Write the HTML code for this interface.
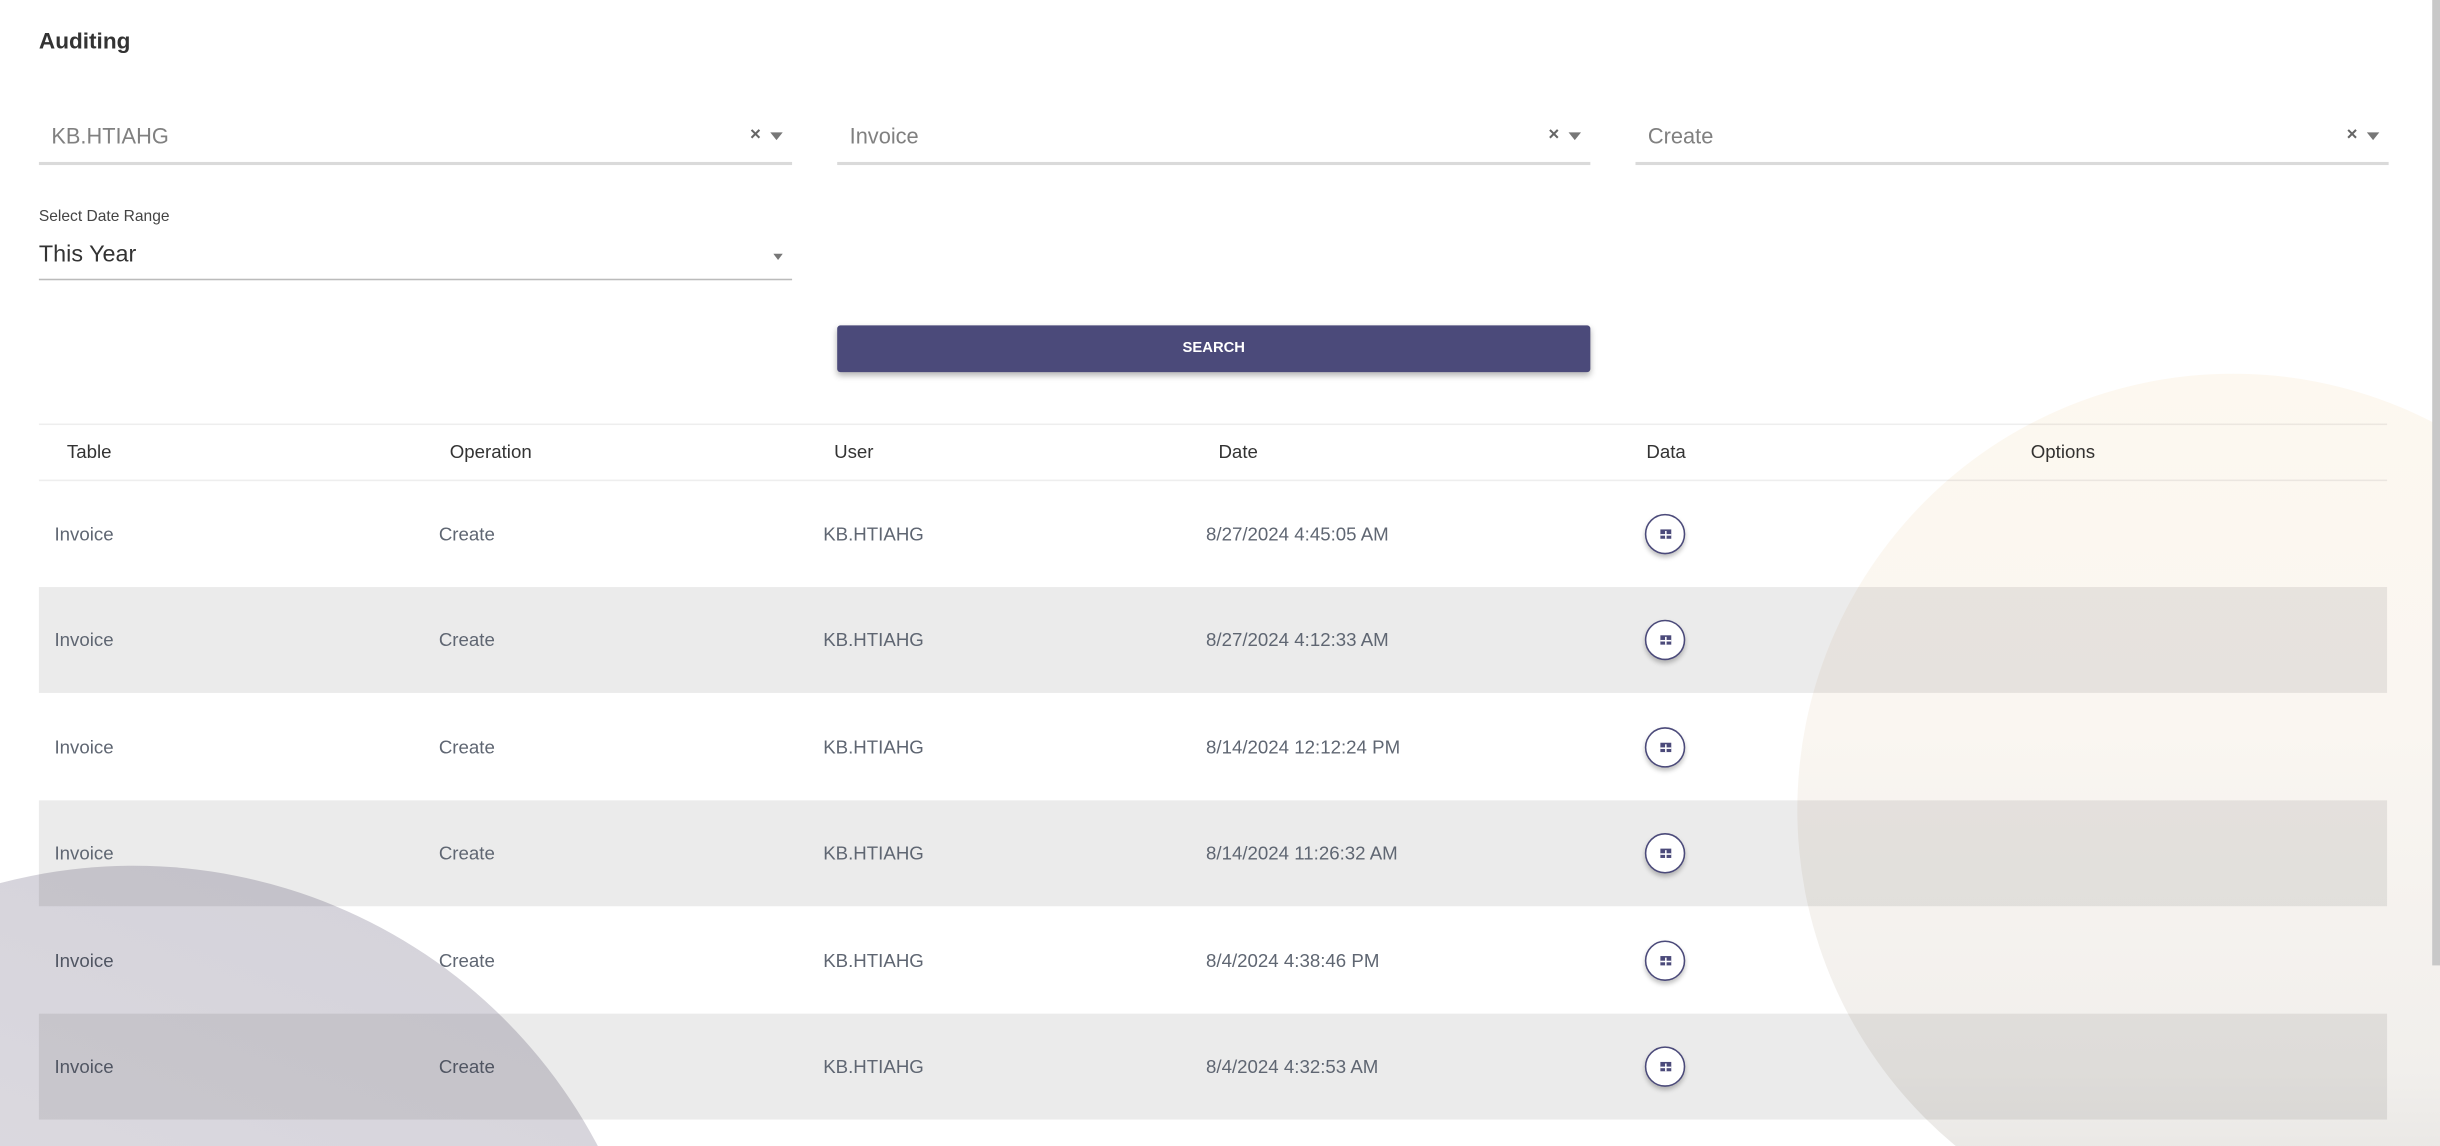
<!DOCTYPE html>
<html><head><meta charset="utf-8"><style>
html,body{margin:0;padding:0;width:2440px;height:1146px;overflow:hidden;background:#fff}
#w{position:absolute;left:0;top:0;width:1568px;height:736px;transform:scale(1.55612,1.5571);transform-origin:0 0;font-family:"Liberation Sans",sans-serif;color:#333;overflow:hidden;background:#fff}
.a{position:absolute}
.sel{position:absolute;top:70px;width:484px;height:34px;border-bottom:2px solid #dadada}
.sel span.t{position:absolute;left:8px;top:9px;font-size:14px;color:#808080}
.sel .x{position:absolute;right:20px;top:9px;font-size:12px;color:#666;font-weight:bold}
.sel .c{position:absolute;right:6px;top:15px;width:0;height:0;border-left:4px solid transparent;border-right:4px solid transparent;border-top:5px solid #777}
.row{position:absolute;left:25px;width:1509px;height:68px;font-size:12px;color:#5f6672}
.row.g{background:#ebebeb}
.row span{position:absolute;top:27px}
.btn{position:absolute;left:1032px;top:21px;width:24px;height:24px;border:1px solid #4b4a7a;border-radius:50%;background:#fff;box-shadow:0 2px 3px rgba(0,0,0,.25)}
.btn i{position:absolute;left:8.5px;top:9px;width:7px;height:6px;background:#4b4a7a}
.btn i:before{content:"";position:absolute;left:3px;top:1px;width:1px;height:5px;background:#fff}
.btn i:after{content:"";position:absolute;left:0;top:3px;width:7px;height:1px;background:#fff}
.h{position:absolute;top:283px;font-size:12px;color:#333}
.circ{position:absolute;border-radius:50%;mix-blend-mode:multiply}
</style></head><body><div id="w">
<div class="a" style="left:25px;top:19px;font-size:14.5px;font-weight:bold;color:#333">Auditing</div>
<div class="sel" style="left:25px"><span class="t">KB.HTIAHG</span><span class="x">×</span><span class="c"></span></div>
<div class="sel" style="left:538px"><span class="t">Invoice</span><span class="x">×</span><span class="c"></span></div>
<div class="sel" style="left:1051px"><span class="t">Create</span><span class="x">×</span><span class="c"></span></div>
<div class="a" style="left:25px;top:134px;font-size:10px;color:#444">Select Date Range</div>
<div class="a" style="left:25px;top:155px;font-size:15px;color:#333">This Year</div>
<div class="a" style="left:497px;top:163px;width:0;height:0;border-left:3.5px solid transparent;border-right:3.5px solid transparent;border-top:4px solid #777"></div>
<div class="a" style="left:25px;top:179px;width:484px;height:1px;background:#bbb"></div>
<div class="a" style="left:538px;top:209px;width:484px;height:30px;background:#4b4a7a;border-radius:2px;box-shadow:0 2px 4px rgba(0,0,0,.3);color:#fff;font-size:9.5px;font-weight:bold;text-align:center;line-height:30px">SEARCH</div>
<div class="a" style="left:25px;top:272px;width:1509px;height:1px;background:#eee"></div>
<div class="a" style="left:25px;top:308px;width:1509px;height:1px;background:#eee"></div>
<div class="h" style="left:43px">Table</div><div class="h" style="left:289px">Operation</div><div class="h" style="left:536px">User</div><div class="h" style="left:783px">Date</div><div class="h" style="left:1058px">Data</div><div class="h" style="left:1305px">Options</div>
<div class="row" style="top:309px"><span style="left:10px">Invoice</span><span style="left:257px">Create</span><span style="left:504px">KB.HTIAHG</span><span style="left:750px">8/27/2024 4:45:05 AM</span><div class="btn"><i></i></div></div>
<div class="row g" style="top:377px"><span style="left:10px">Invoice</span><span style="left:257px">Create</span><span style="left:504px">KB.HTIAHG</span><span style="left:750px">8/27/2024 4:12:33 AM</span><div class="btn"><i></i></div></div>
<div class="row" style="top:446px"><span style="left:10px">Invoice</span><span style="left:257px">Create</span><span style="left:504px">KB.HTIAHG</span><span style="left:750px">8/14/2024 12:12:24 PM</span><div class="btn"><i></i></div></div>
<div class="row g" style="top:514px"><span style="left:10px">Invoice</span><span style="left:257px">Create</span><span style="left:504px">KB.HTIAHG</span><span style="left:750px">8/14/2024 11:26:32 AM</span><div class="btn"><i></i></div></div>
<div class="row" style="top:583px"><span style="left:10px">Invoice</span><span style="left:257px">Create</span><span style="left:504px">KB.HTIAHG</span><span style="left:750px">8/4/2024 4:38:46 PM</span><div class="btn"><i></i></div></div>
<div class="row g" style="top:651px"><span style="left:10px">Invoice</span><span style="left:257px">Create</span><span style="left:504px">KB.HTIAHG</span><span style="left:750px">8/4/2024 4:32:53 AM</span><div class="btn"><i></i></div></div>
<div class="a" style="left:0;top:0;width:1568px;height:736px;overflow:hidden">
<div class="circ" style="left:-251px;top:556px;width:674px;height:674px;background:linear-gradient(200deg,#d3d1d9 0%,#dddbe1 50%,#ebe6e4 100%)"></div>
<div class="circ" style="left:1155px;top:240px;width:560px;height:560px;background:linear-gradient(180deg,#fdf8f0 0%,#faf6f1 40%,#f1efec 80%,#e2e0de 100%)"></div>
</div>
<div class="a" style="left:1563px;top:0;width:5px;height:620px;background:#c8c8c8"></div>
</div></body></html>
